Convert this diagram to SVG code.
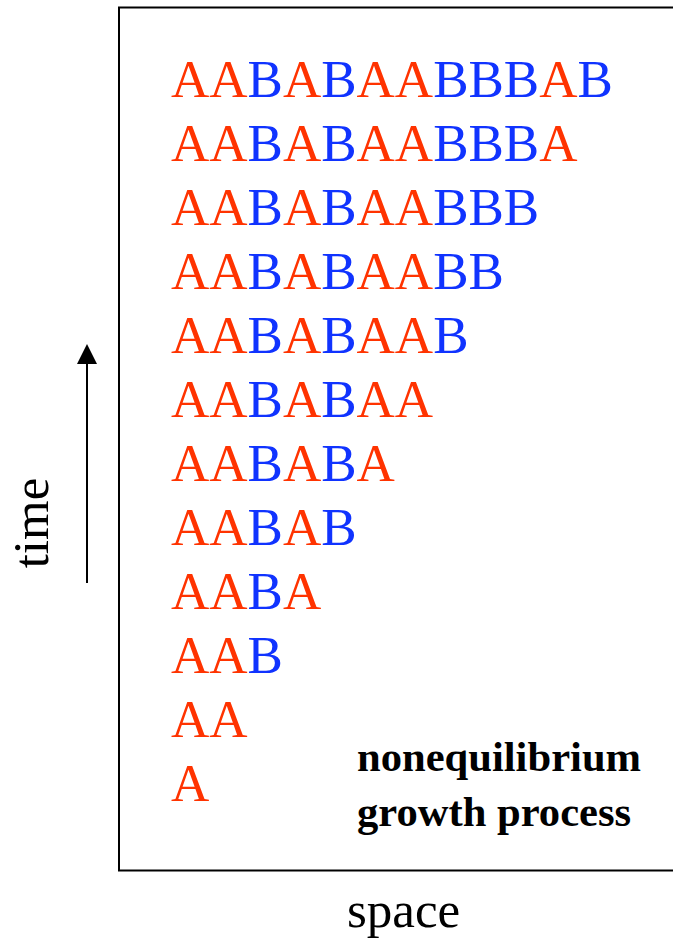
<svg xmlns="http://www.w3.org/2000/svg" width="673" height="938" viewBox="0 0 673 938">
<style>
.seq{font-family:"Liberation Serif","Times New Roman",serif;font-size:53px}
.a{fill:#ff3300}
.b{fill:#1033ff}
.lbl{font-family:"Liberation Serif","Times New Roman",serif;font-size:51px;fill:#000}
.bold{font-family:"Liberation Serif","Times New Roman",serif;font-size:42.6px;font-weight:bold;fill:#000}
</style>
<rect x="0" y="0" width="673" height="938" fill="#fff"/>
<g id="frame"><rect x="119" y="7.5" width="600" height="863" fill="none" stroke="#000" stroke-width="2"/></g>
<g id="rows" class="seq">
<text x="171" y="97"><tspan class="a">AA</tspan><tspan class="b">B</tspan><tspan class="a">A</tspan><tspan class="b">B</tspan><tspan class="a">AA</tspan><tspan class="b">BBB</tspan><tspan class="a">A</tspan><tspan class="b">B</tspan></text>
<text x="171" y="161"><tspan class="a">AA</tspan><tspan class="b">B</tspan><tspan class="a">A</tspan><tspan class="b">B</tspan><tspan class="a">AA</tspan><tspan class="b">BBB</tspan><tspan class="a">A</tspan></text>
<text x="171" y="225"><tspan class="a">AA</tspan><tspan class="b">B</tspan><tspan class="a">A</tspan><tspan class="b">B</tspan><tspan class="a">AA</tspan><tspan class="b">BBB</tspan></text>
<text x="171" y="289"><tspan class="a">AA</tspan><tspan class="b">B</tspan><tspan class="a">A</tspan><tspan class="b">B</tspan><tspan class="a">AA</tspan><tspan class="b">BB</tspan></text>
<text x="171" y="353"><tspan class="a">AA</tspan><tspan class="b">B</tspan><tspan class="a">A</tspan><tspan class="b">B</tspan><tspan class="a">AA</tspan><tspan class="b">B</tspan></text>
<text x="171" y="417"><tspan class="a">AA</tspan><tspan class="b">B</tspan><tspan class="a">A</tspan><tspan class="b">B</tspan><tspan class="a">AA</tspan></text>
<text x="171" y="481"><tspan class="a">AA</tspan><tspan class="b">B</tspan><tspan class="a">A</tspan><tspan class="b">B</tspan><tspan class="a">A</tspan></text>
<text x="171" y="545"><tspan class="a">AA</tspan><tspan class="b">B</tspan><tspan class="a">A</tspan><tspan class="b">B</tspan></text>
<text x="171" y="609"><tspan class="a">AA</tspan><tspan class="b">B</tspan><tspan class="a">A</tspan></text>
<text x="171" y="673"><tspan class="a">AA</tspan><tspan class="b">B</tspan></text>
<text x="171" y="737"><tspan class="a">AA</tspan></text>
<text x="171" y="801"><tspan class="a">A</tspan></text>
</g>
<g id="caption">
<text class="bold" x="357" y="771">nonequilibrium</text>
<text class="bold" x="357" y="826">growth process</text>
</g>
<g id="connectors">
<line x1="87" y1="583" x2="87" y2="360" stroke="#000" stroke-width="2"/>
<polygon points="87,344 97,364 77,364" fill="#000"/>
</g>
<g id="axis-labels">
<text class="lbl" transform="translate(48,523) rotate(-90)" text-anchor="middle">time</text>
<text class="lbl" x="347" y="927">space</text>
</g>
</svg>
